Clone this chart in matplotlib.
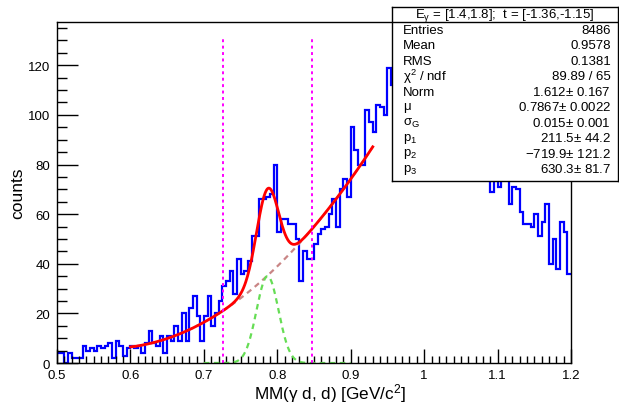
import numpy as np
import matplotlib
matplotlib.use("Agg")
import matplotlib.pyplot as plt
from matplotlib.ticker import MultipleLocator

plt.rcParams['font.family'] = ['Liberation Sans', 'DejaVu Sans']
plt.rcParams['mathtext.fontset'] = 'custom'
plt.rcParams['mathtext.rm'] = 'Liberation Sans'
plt.rcParams['mathtext.it'] = 'Liberation Sans:italic'

# histogram: 140 bins of 0.005 GeV/c^2 between 0.5 and 1.2
x_lo, x_hi, n_bins = 0.5, 1.2, 140
counts = [
    4, 4, 0, 4, 2, 2, 2, 7, 5, 6, 5, 7, 6, 7, 8, 2, 9, 7, 3, 6,
    7, 6, 7, 4, 8, 13, 8, 7, 11, 4, 11, 9, 15, 9, 20, 9, 22, 27, 19, 9,
    19, 27, 15, 20, 25, 31, 33, 37, 28, 42, 36, 37, 41, 51, 51, 66, 66, 67, 68, 80,
    53, 58, 58, 56, 56, 50, 33, 45, 42, 42, 48, 52, 54, 55, 60, 66, 55, 70, 74, 67,
    95, 86, 80, 80, 102, 97, 93, 104, 103, 100, 119, 112, 121, 116, 125, 119, 128, 122, 131, 118,
    126, 124, 129, 117, 121, 113, 118, 108, 112, 103, 106, 98, 95, 99, 88, 91, 84, 86, 69, 82,
    71, 79, 76, 64, 71, 70, 61, 56, 56, 55, 60, 51, 57, 64, 40, 50, 38, 57, 53, 36,
]

# fit results (gaus + pol2 background)
mu, sigma = 0.7867, 0.015
gaus_peak = 35.0
p1, p2, p3 = 211.5, -719.9, 630.3
fit_range = (0.6, 0.93)
gaus_range = (0.7, 0.9)
cut_lo, cut_hi = mu - 4 * sigma, mu + 4 * sigma

stats_title = r'$\mathregular{E_{\gamma}}$ = [1.4,1.8];  t = [-1.36,-1.15]'
stats_labels = ['Entries', 'Mean', 'RMS', r'$\mathregular{\chi^{2}}$ / ndf', 'Norm', r'$\mathregular{\mu}$',
                r'$\mathregular{\sigma_{G}}$', r'$\mathregular{p_{1}}$', r'$\mathregular{p_{2}}$', r'$\mathregular{p_{3}}$']
stats_values = ['8486', '0.9578', '0.1381', '89.89 / 65', '1.612$\\pm$ 0.167', '0.7867$\\pm$ 0.0022',
                '0.015$\\pm$ 0.001', '211.5$\\pm$ 44.2', '\u2212719.9$\\pm$ 121.2', '630.3$\\pm$ 81.7']


def background(x):
    return p1 + p2 * x + p3 * x ** 2


def gaussian(x):
    return gaus_peak * np.exp(-0.5 * ((x - mu) / sigma) ** 2)


fig = plt.figure(figsize=(6.19, 4.06), dpi=100)
ax = fig.add_axes([0.0921, 0.1034, 0.8304, 0.8406])

edges = np.linspace(x_lo, x_hi, n_bins + 1)
ax.stairs(counts, edges, color='#0000ff', lw=1.6, baseline=None)

xf = np.linspace(*fit_range, 400)
ax.plot(xf, background(xf), color='#c98585', lw=1.6, ls=(0, (2.5, 2)))
xg = np.linspace(*gaus_range, 300)
ax.plot(xg, gaussian(xg), color='#66dd55', lw=1.6, ls=(0, (2.5, 2)))
ax.plot(xf, gaussian(xf) + background(xf), color='#ff0000', lw=2.0)

hmax = max(counts)
for xc in (cut_lo, cut_hi):
    ax.plot([xc, xc], [0, hmax], color='#ff00ff', lw=1.4, ls=(0, (1.5, 1.8)))

ax.set_xlim(x_lo, x_hi)
ax.set_ylim(0, hmax * 1.05)
ax.xaxis.set_major_locator(MultipleLocator(0.1))
ax.xaxis.set_minor_locator(MultipleLocator(0.01))
ax.yaxis.set_major_locator(MultipleLocator(20))
ax.yaxis.set_minor_locator(MultipleLocator(5))
ax.xaxis.set_major_formatter(plt.FuncFormatter(lambda v, p: f'{v:g}'))
ax.tick_params(axis='x', which='major', direction='in', length=10, width=1, labelsize=9.5, pad=4)
ax.tick_params(axis='x', which='minor', direction='in', length=5, width=1)
ax.tick_params(axis='y', which='major', direction='in', length=15, width=1, labelsize=9.5, pad=5)
ax.tick_params(axis='y', which='minor', direction='in', length=7, width=1)
for s in ax.spines.values():
    s.set_linewidth(1.0)

ax.set_xlabel(r'MM($\mathregular{\gamma}$ d, d) [GeV/$\mathregular{c^{2}}$]', fontsize=12.3)
ax.set_ylabel('counts', fontsize=12.5)
ax.xaxis.set_label_coords(0.530, -0.052)
ax.yaxis.set_label_coords(-0.062, 0.5)

# stats box
sb = fig.add_axes([0.6333, 0.5525, 0.3651, 0.4278])
sb.set_xlim(0, 1)
sb.set_ylim(0, 1)
sb.set_xticks([])
sb.set_yticks([])
sb.set_facecolor('white')
for s in sb.spines.values():
    s.set_linewidth(1.0)
sb.axhline(0.9154, color='black', lw=1.0)
sb.text(0.5, 0.958, stats_title, ha='center', va='center', fontsize=9.5)
for i, (lab, val) in enumerate(zip(stats_labels, stats_values)):
    yy = 1 - (31 + 15.4 * i - 8) / 173.7
    sb.text(0.049, yy, lab, ha='left', va='center', fontsize=9.5)
    sb.text(0.969, yy, val, ha='right', va='center', fontsize=9.5)

fig.savefig('out.png', dpi=100)
